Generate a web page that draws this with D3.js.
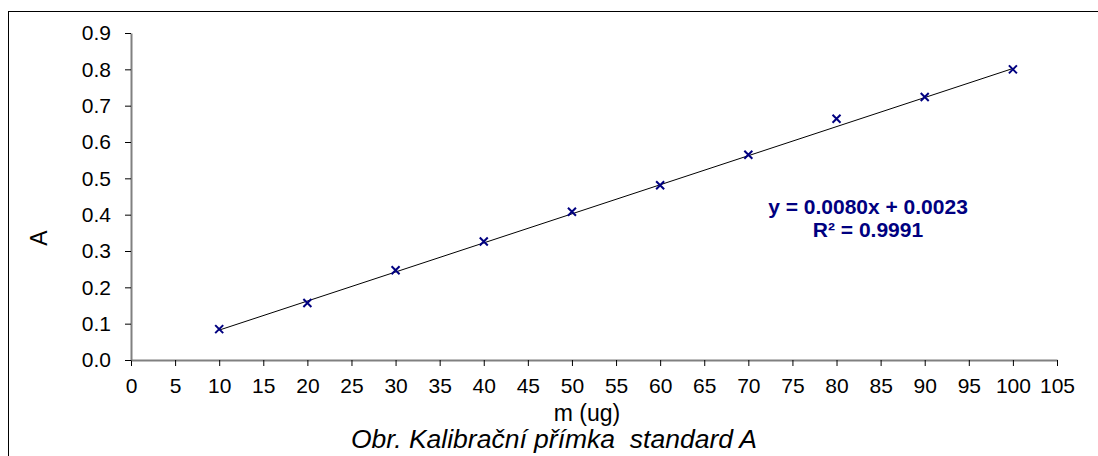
<!DOCTYPE html>
<html>
<head>
<meta charset="utf-8">
<script src="https://cdn.jsdelivr.net/npm/d3@7.9.0/dist/d3.min.js"></script>
<style>
  body { margin: 0; background: #fff; }
  svg { display: block; font-family: "Liberation Sans", Arial, sans-serif; }
</style>
</head>
<body>
<svg width="1098" height="456"></svg>
<script>
// measured points (m in ug, absorbance A)
const mass = [10, 20, 30, 40, 50, 60, 70, 80, 90, 100];
const absorb = [0.085, 0.157, 0.247, 0.326, 0.408, 0.481, 0.565, 0.664, 0.724, 0.800];
const xTicks = d3.range(0, 106, 5);
const yTicks = [0, 0.1, 0.2, 0.3, 0.4, 0.5, 0.6, 0.7, 0.8, 0.9];
// linear trendline from the chart label
const slope = 0.0080;
const intercept = 0.0023;
const eqLines = ['y = 0.0080x + 0.0023', 'R² = 0.9991'];

const svg = d3.select('svg');
const navy = '#000080';

// outer chart frame (runs off the right and bottom edges)
svg.append('rect')
  .attr('x', 8.5).attr('y', 11.5)
  .attr('width', 1100).attr('height', 460)
  .attr('fill', 'none').attr('stroke', '#000').attr('stroke-width', 1);

let x = d3.scaleLinear().domain([0, 105]).range([131, 1057]);
let y = d3.scaleLinear().domain([0, 0.9]).range([360, 33]);

let xAxis = svg.append('g')
  .attr('transform', 'translate(0,360)')
  .call(d3.axisBottom(x).tickValues(xTicks).tickSize(6).tickSizeOuter(0).tickPadding(12));
let yAxis = svg.append('g')
  .attr('transform', 'translate(131,0)')
  .call(d3.axisLeft(y).tickValues(yTicks).tickSize(6).tickSizeOuter(0).tickPadding(14)
    .tickFormat(d3.format('.1f')));

[xAxis, yAxis].forEach(g => {
  g.select('.domain').attr('stroke', '#808080').attr('stroke-width', 2);
  g.selectAll('.tick line').attr('stroke', '#000');
  g.selectAll('.tick text').attr('font-size', 21).attr('fill', '#000')
    .attr('font-family', '"Liberation Sans", Arial, sans-serif');
});
xAxis.selectAll('.tick line').attr('y1', 0).attr('y2', 6);

// trendline
svg.append('line')
  .attr('x1', x(mass[0])).attr('y1', y(slope * mass[0] + intercept))
  .attr('x2', x(mass[mass.length - 1])).attr('y2', y(slope * mass[mass.length - 1] + intercept))
  .attr('stroke', '#000').attr('stroke-width', 1);

// x markers
let pts = svg.append('g');
mass.forEach((m, i) => {
  let cx = x(m), cy = y(absorb[i]), s = 4;
  pts.append('path')
    .attr('d', `M${cx - s},${cy - s}L${cx + s},${cy + s}M${cx - s},${cy + s}L${cx + s},${cy - s}`)
    .attr('stroke', navy).attr('stroke-width', 2).attr('fill', 'none');
});

// regression label
svg.append('text')
  .attr('x', 868).attr('y', 214)
  .attr('text-anchor', 'middle')
  .attr('font-size', 21).attr('font-weight', 'bold').attr('fill', navy)
  .selectAll('tspan').data(eqLines).join('tspan')
  .attr('x', 868).attr('dy', (d, i) => i ? 23 : 0)
  .text(d => d);

// axis titles
svg.append('text')
  .attr('transform', 'translate(47,238) rotate(-90)')
  .attr('text-anchor', 'middle').attr('font-size', 23)
  .text('A');
svg.append('text')
  .attr('x', 587).attr('y', 421)
  .attr('text-anchor', 'middle').attr('font-size', 23)
  .text('m (ug)');
svg.append('text')
  .attr('x', 554).attr('y', 448)
  .attr('text-anchor', 'middle').attr('font-size', 26.5).attr('font-style', 'italic')
  .attr('xml:space', 'preserve')
  .text('Obr. Kalibrační přímka  standard A');
</script>
</body>
</html>
